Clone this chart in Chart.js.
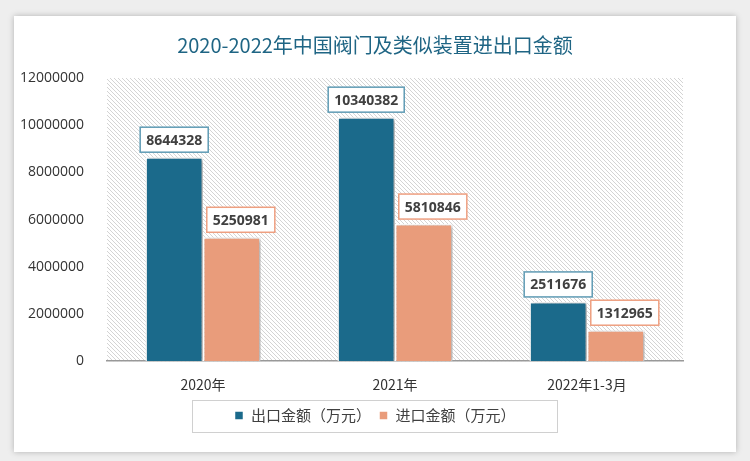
<!DOCTYPE html>
<html>
<head>
<meta charset="utf-8">
<script src="https://cdn.jsdelivr.net/npm/chart.js@4.4.0/dist/chart.umd.min.js"></script>
<style>
	html, body { margin: 0; padding: 0; background: #eeeeee; }
	#card {
		position: absolute; left: 14px; top: 16px; width: 722px; height: 436px;
		background: #ffffff; box-shadow: 0 0 6px rgba(0, 0, 0, 0.25);
	}
	#wrap { position: absolute; left: 0; top: 0; width: 750px; height: 461px; }
</style>
</head>
<body>
<div id="card"></div>
<div id="wrap"><canvas id="bar-chart" width="750" height="461"></canvas></div>
<script>
// data
const years = ['2020年', '2021年', '2022年1-3月']
const exportValues = [8644328, 10340382, 2511676]
const importValues = [5250981, 5810846, 1312965]
const yTicks = [0, 2000000, 4000000, 6000000, 8000000, 10000000, 12000000]

const exportColor = '#1b6a8b'
const importColor = '#e99c7b'

//hatched background for the plot area
function makeHatch() {
	const c = document.createElement('canvas')
	c.width = 4
	c.height = 4
	const g = c.getContext('2d')
	g.strokeStyle = '#d4d4d4'
	g.lineWidth = 1
	g.beginPath()
	g.moveTo(-1, -1); g.lineTo(5, 5)
	g.moveTo(-1, 3); g.lineTo(1, 5)
	g.moveTo(3, -1); g.lineTo(5, 1)
	g.stroke()
	return c
}

const hatchPlugin = {
	id: 'hatch',
	beforeDraw(chart) {
		const { ctx, chartArea } = chart
		ctx.save()
		ctx.fillStyle = ctx.createPattern(makeHatch(), 'repeat')
		ctx.fillRect(chartArea.left, chartArea.top, chartArea.right - chartArea.left, chartArea.bottom - chartArea.top)
		ctx.restore()
	},
	beforeDatasetsDraw(chart) {
		const ctx = chart.ctx
		ctx.save()
		ctx.shadowColor = 'rgba(0,0,0,0.35)'
		ctx.shadowBlur = 4
		ctx.shadowOffsetX = 2
		ctx.shadowOffsetY = 1
	},
	afterDatasetsDraw(chart) {
		chart.ctx.restore()
	}
}

//boxed value labels above bars
const valueLabels = {
	id: 'valueLabels',
	afterDatasetsDraw(chart) {
		const ctx = chart.ctx
		ctx.save()
		ctx.font = 'bold 14px "Open Sans", "Liberation Sans", sans-serif'
		ctx.textAlign = 'center'
		ctx.textBaseline = 'middle'
		chart.data.datasets.forEach((ds, i) => {
			const meta = chart.getDatasetMeta(i)
			meta.data.forEach((bar, j) => {
				const text = String(ds.data[j])
				const w = ctx.measureText(text).width + 12
				const h = 25
				const cx = bar.x + (i === 1 ? 9 : 0)
				const bottom = bar.y - 5
				ctx.fillStyle = '#ffffff'
				ctx.fillRect(cx - w / 2, bottom - h, w, h)
				ctx.strokeStyle = i === 0 ? '#5f9bb4' : '#ee9f80'
				ctx.lineWidth = 1.5
				ctx.strokeRect(cx - w / 2, bottom - h, w, h)
				ctx.fillStyle = '#404040'
				ctx.fillText(text, cx, bottom - h / 2 + 1)
			})
		})
		ctx.restore()
	}
}

//frame round the legend
const legendBox = {
	id: 'legendBox',
	afterDraw(chart) {
		const l = chart.legend
		const ctx = chart.ctx
		ctx.save()
		ctx.strokeStyle = '#d0d0d0'
		ctx.lineWidth = 1
		ctx.strokeRect(192.5, l.top + 0.5, 365, l.height - 1)
		ctx.restore()
	}
}

const barData = {
	labels: years,
	datasets: [
		{
			label: '出口金额（万元）',
			data: exportValues,
			backgroundColor: exportColor,
			borderColor: '#ffffff',
			borderWidth: 1.5
		},
		{
			label: '进口金额（万元）',
			data: importValues,
			backgroundColor: importColor,
			borderColor: '#ffffff',
			borderWidth: 1.5
		}
	]
}

const barConfig = {
	type: 'bar',
	data: barData,
	options: {
		responsive: false,
		animation: false,
		categoryPercentage: 0.6,
		barPercentage: 1.0,
		layout: { padding: { left: 0, right: 0, top: 0, bottom: 28 } },
		plugins: {
			title: {
				display: true,
				text: '2020-2022年中国阀门及类似装置进出口金额',
				color: '#1f6584',
				font: { size: 20, weight: 'normal', family: '"Liberation Sans Narrow", "Noto Sans CJK SC", sans-serif' },
				padding: { top: 33, bottom: 21 }
			},
			legend: {
				position: 'bottom',
				labels: {
					boxWidth: 9,
					boxHeight: 9,
					padding: 8,
					color: '#404040',
					font: { size: 15, family: '"Noto Sans CJK SC", sans-serif' }
				}
			},
			tooltip: { enabled: false }
		},
		scales: {
			x: {
				grid: { display: false },
				border: { color: '#999999', width: 1.5 },
				ticks: {
					color: '#333333',
					padding: 7,
					font: { size: 14, family: '"Noto Sans CJK SC", sans-serif' }
				}
			},
			y: {
				min: 0,
				max: 12000000,
				afterFit(scale) { scale.width = 107 },
				afterBuildTicks(scale) { scale.ticks = yTicks.map(v => ({ value: v })) },
				grid: { display: false },
				border: { display: false },
				ticks: {
					color: '#333333',
					padding: 15,
					callback: v => String(v),
					font: { size: 14, family: '"Open Sans", "Liberation Sans", sans-serif' }
				}
			},
			//empty axis on the right, only to keep the plot narrower than the card
			yRight: {
				position: 'right',
				afterFit(scale) { scale.width = 67 },
				grid: { display: false },
				border: { display: false },
				ticks: { display: false }
			}
		}
	},
	plugins: [hatchPlugin, valueLabels, legendBox]
}

const barChart = new Chart(document.querySelector('#bar-chart'), barConfig)
</script>
</body>
</html>
